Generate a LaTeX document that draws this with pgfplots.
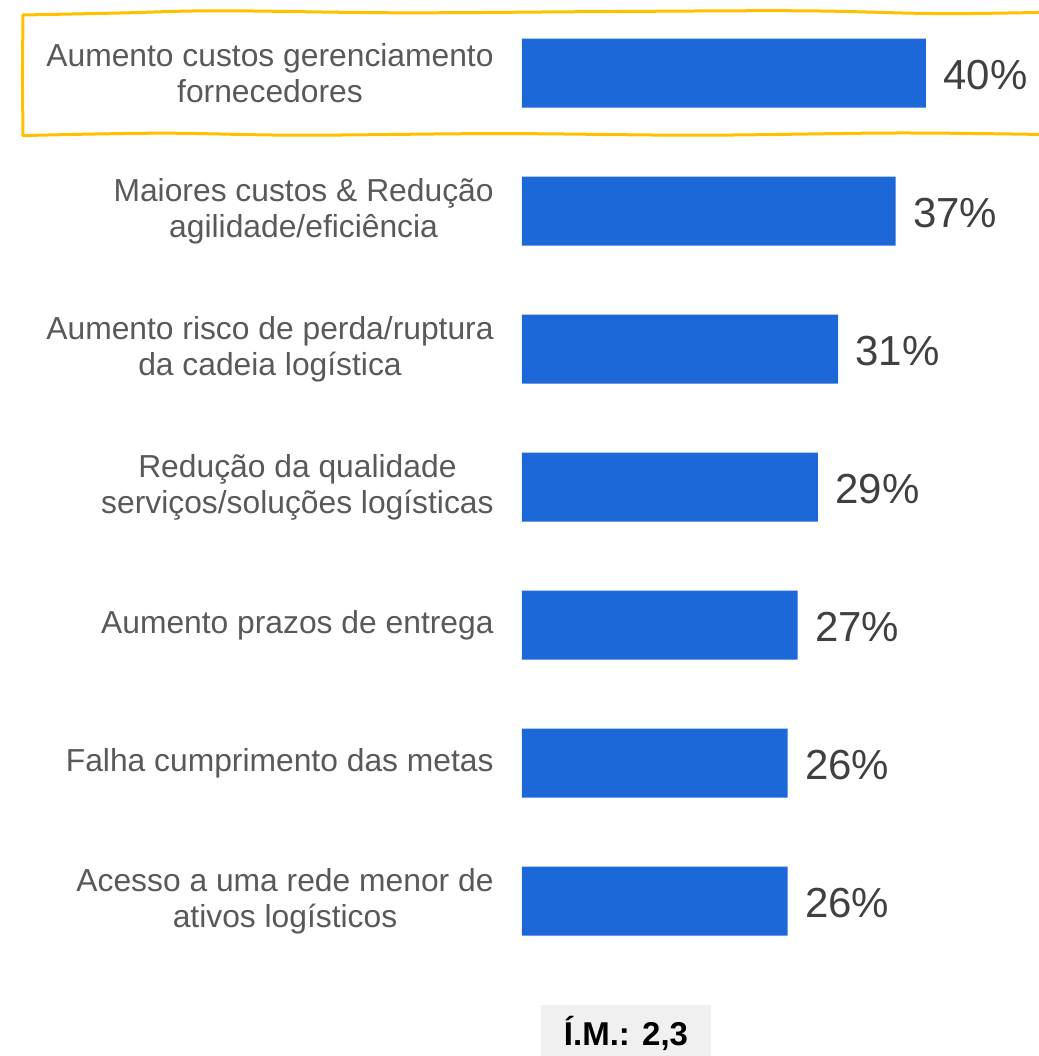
\documentclass[border=0pt]{standalone}
\usepackage{pgfplots}
\pgfplotsset{compat=1.18}
\usepackage{fontspec}
\setmainfont{Liberation Sans}
\definecolor{barblue}{RGB}{29,104,216}
\definecolor{labelgray}{RGB}{89,89,89}
\definecolor{valgray}{RGB}{64,64,64}
\definecolor{hlyellow}{RGB}{255,192,0}
\definecolor{boxgray}{RGB}{240,240,240}

\begin{document}
\begin{tikzpicture}
\useasboundingbox (0,0) rectangle (519.5pt,528pt);
% hand-drawn highlight around the first category
\draw[hlyellow, line width=1.5pt, line join=round, line cap=round]
    plot[smooth, tension=0.6] coordinates {
      (11.5pt,520.5pt) (60pt,521.5pt) (110pt,522.6pt) (200pt,521.6pt)
      (300pt,522.2pt) (400pt,522.6pt) (470pt,521.2pt) (530pt,522pt)};
\draw[hlyellow, line width=1.5pt, line join=round, line cap=round]
    plot[smooth, tension=0.6] coordinates {
      (11.5pt,460.2pt) (80pt,461.4pt) (150pt,460.4pt) (250pt,461.2pt)
      (350pt,460.4pt) (450pt,461.5pt) (530pt,460.6pt)};
\draw[hlyellow, line width=1.5pt, line cap=round] (11.5pt,460.2pt) -- (11.2pt,490pt) -- (11.5pt,520.5pt);
\begin{axis}[
    at={(261pt,43pt)}, anchor=south west,
    scale only axis,
    width=252.5pt, height=483pt,
    xmin=0, xmax=50,
    ymin=-0.5, ymax=6.5,
    y dir=reverse,
    xbar, bar width=34.5pt, bar shift=0pt,
    axis line style={draw=none},
    major tick length=0pt,
    xtick=\empty,
    ytick={0,1,2,3,4,5,6},
    yticklabels={
        {Aumento custos gerenciamento\\fornecedores},
        {Maiores custos \& Redução\\agilidade/eficiência},
        {Aumento risco de perda/ruptura\\da cadeia logística},
        {Redução da qualidade\\serviços/soluções logísticas},
        {Aumento prazos de entrega},
        {Falha cumprimento das metas},
        {Acesso a uma rede menor de\\ativos logísticos}},
    yticklabel style={align=center, anchor=east, inner sep=0pt, xshift=-14pt,
        font=\fontsize{15.9pt}{18pt}\selectfont, text=labelgray},
    clip=false,
    point meta=explicit symbolic,
    nodes near coords={\pgfplotspointmeta\%},
    nodes near coords style={anchor=west, inner sep=0pt, xshift=8.5pt, yshift=-1pt,
        font=\fontsize{21pt}{24pt}\selectfont, text=valgray},
]
\addplot[fill=barblue, draw=none] coordinates {
    (40,0) [40] (37,1) [37] (31.3,2) [31] (29.3,3) [29]
    (27.3,4) [27] (26.3,5) [26] (26.3,6) [26]
};
\end{axis}
% index box at the bottom
\fill[boxgray] (270.5pt,-2pt) rectangle (355.5pt,25.5pt);
\node[font=\fontsize{16.5pt}{19pt}\selectfont\bfseries] at (313pt,11.5pt) {Í.M.: 2,3};
\end{tikzpicture}
\end{document}
